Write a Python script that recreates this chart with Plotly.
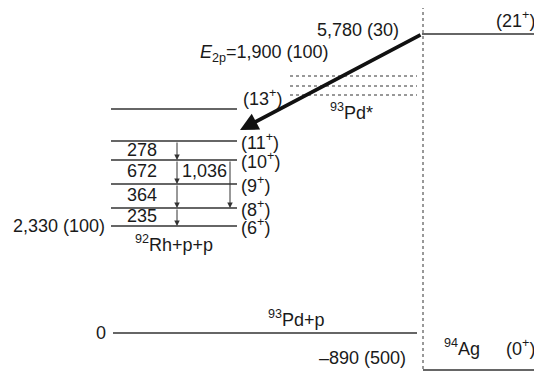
import plotly.graph_objects as go

# ---- data (schematic level scheme; y in schematic units) ----
# 92Rh+p+p levels
rh_spins = ["(13<sup>+</sup>)", "(11<sup>+</sup>)", "(10<sup>+</sup>)", "(9<sup>+</sup>)", "(8<sup>+</sup>)", "(6<sup>+</sup>)"]
rh_level_y = [262, 230, 211, 187, 163, 145]
gamma_energies = ["278", "672", "364", "235"]  # 11+>10+, 10+>9+, 9+>8+, 8+>6+
crossover_label = "1,036"                        # 10+ > 8+
rh_base_label = "2,330 (100)"
# 93Pd* dotted states
pd_star_y = [295, 285, 276]
# top level (94Ag 21+) and bottom levels
top_level_y = 337
top_label = "5,780 (30)"
top_spin = "(21<sup>+</sup>)"
e2p_label = "<i>E</i><sub>2p</sub>=1,900 (100)"
pd_p_y = 38
pd_p_label = "0"
ag_ground_y = 1
ag_ground_label = "–890 (500)"
ag_ground_spin = "(0<sup>+</sup>)"

FONT = dict(family="Liberation Sans, Arial, sans-serif", size=18, color="#1a1a1a")
LINE = "#333333"

fig = go.Figure()

def hline(x0, x1, y, dash="solid", width=1.3, color=LINE):
    fig.add_trace(go.Scatter(x=[x0, x1], y=[y, y], mode="lines",
                             line=dict(color=color, width=width, dash=dash),
                             hoverinfo="skip", showlegend=False))

# Rh levels
for y in rh_level_y:
    hline(111, 237, y)
# 93Pd* dotted levels
for y in pd_star_y:
    hline(290, 417, y, dash="dot", width=1)
# 21+ level
hline(422, 542, top_level_y)
# 93Pd+p ground (0)
hline(113, 417, pd_p_y)
# 94Ag ground
hline(423, 542, ag_ground_y)
# vertical dotted separator
fig.add_trace(go.Scatter(x=[423, 423], y=[371, ag_ground_y], mode="lines",
                         line=dict(color=LINE, width=1, dash="dot"),
                         hoverinfo="skip", showlegend=False))

anns = []
def txt(x, y, s, xa="center", ya="middle", size=None):
    f = dict(FONT)
    if size:
        f["size"] = size
    anns.append(dict(x=x, y=y, text=s, showarrow=False, xanchor=xa, yanchor=ya, font=f))

def arrow(x0, y0, x1, y1, w=1, head=2, size=1.0, color="#333333"):
    anns.append(dict(x=x1, y=y1, ax=x0, ay=y0, xref="x", yref="y", axref="x", ayref="y",
                     text="", showarrow=True, arrowhead=head, arrowsize=size,
                     arrowwidth=w, arrowcolor=color, standoff=0))

# gamma cascade (vertical line)
cas_x = 177
for i in range(1, len(rh_level_y) - 1):
    arrow(cas_x, rh_level_y[i], cas_x, rh_level_y[i + 1], w=1, head=2, size=1.1)
# gamma energy labels
for i, g in enumerate(gamma_energies):
    ytop, ybot = rh_level_y[i + 1], rh_level_y[i + 2]
    txt(142, (ytop + ybot) / 2 + 1, g)
# crossover 1,036 (10+ -> 8+)
arrow(230, rh_level_y[2], 230, rh_level_y[4], w=1, head=2, size=1.1)
txt(204, (rh_level_y[2] + rh_level_y[3]) / 2 + 1, crossover_label)

# spin labels of Rh levels
txt(241, rh_level_y[0] + 12, rh_spins[0], xa="left")
for s, y in zip(rh_spins[1:], rh_level_y[1:]):
    txt(239, y, s, xa="left")
txt(107, rh_level_y[-1], rh_base_label, xa="right")
txt(174, rh_level_y[-1] - 17, "<sup>92</sup>Rh+p+p")

# thick 2p arrow (93Pd* -> 92Rh+p+p)
arrow(422, top_level_y, 240, 241, w=3.6, head=2, size=1.0, color="#111111")

# top labels
txt(537, 352, top_spin, xa="right")
txt(401, 341, top_label, xa="right")
txt(264, 318, e2p_label)
txt(351, 260, "<sup>93</sup>Pd*")

# bottom labels
txt(108, pd_p_y, pd_p_label, xa="right")
txt(296, pd_p_y + 15, "<sup>93</sup>Pd+p")
txt(362, ag_ground_y + 12, ag_ground_label)
txt(462, ag_ground_y + 23, "<sup>94</sup>Ag")
txt(537, ag_ground_y + 23, ag_ground_spin, xa="right")

# page body has an 8px margin: size the figure and offset the ranges to match
fig.update_layout(
    width=534, height=363,
    margin=dict(l=0, r=0, t=0, b=0),
    paper_bgcolor="white", plot_bgcolor="white",
    xaxis=dict(range=[8, 542], visible=False, fixedrange=True),
    yaxis=dict(range=[0, 363], visible=False, fixedrange=True),
    annotations=anns,
    showlegend=False,
)
fig.write_html("out.html")
